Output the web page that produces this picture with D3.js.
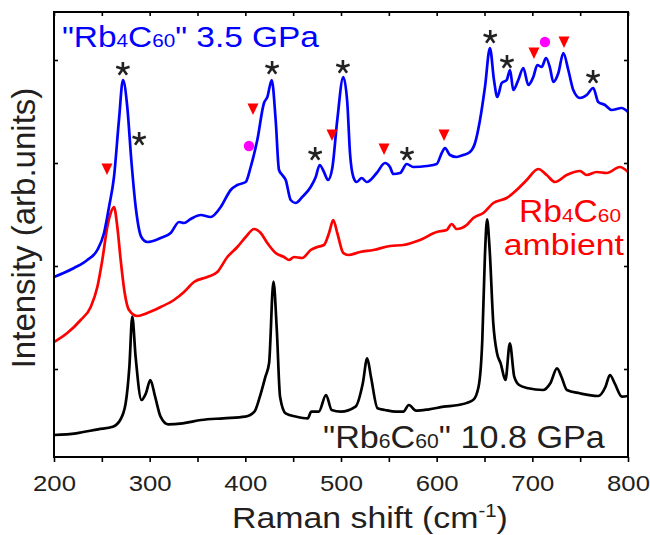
<!DOCTYPE html>
<html>
<head>
<meta charset="UTF-8">
<style>
  body { margin: 0; background: #fff; }
  svg text { font-family: "Liberation Sans", Arial, Helvetica, sans-serif; }
</style>
</head>
<body>
<div id="chart"></div>
<script src="https://d3js.org/d3.v7.min.js"></script>
<script>
const width = 650, height = 535;
const margin = {left: 54, right: 22, top: 12, bottom: 78};

// spectra: [Raman shift (cm-1), intensity (arb. units, offset)]
const rb4c60Pressure = [
  [200,180],[220.9,189],[234.8,197],[245.3,207],[252.3,224],[257.5,250],[262.7,280],[267.9,337],
  [272.1,377],[276.6,350],[280.8,297],[285.4,250],[291.3,220],[297.5,215],[311.5,219],[322,224],
  [330.7,235],[335.9,234],[342.9,238],[353.4,242],[363.8,240],[374.3,250],[384.7,267],[391.6,272],
  [400.4,275],[405.6,290],[412.5,317],[419.5,354],[423,360],[427.6,377],[431.7,337],[435.2,287],
  [438.6,282],[442.2,277],[447.4,257],[452.6,254],[459.5,260],[468.3,270],[473.6,280],[477.7,292],
  [482.2,285],[486.4,277],[490.9,289],[496.1,337],[502.4,380],[506.6,354],[509.4,304],[512.9,280],
  [516.4,275],[521.6,279],[526.9,275],[537.3,284],[546,294],[551.2,290],[554.7,283],[561.7,284],
  [568.7,293],[575.6,290],[589.6,291],[600,293],[605.3,304],[608.7,309],[613.9,302],[620.9,300],
  [627.8,302],[634.8,305],[640.1,314],[645.3,337],[650.5,370],[655.7,409],[659.9,377],[663.4,360],
  [668,374],[673.2,377],[676.7,387],[680.1,367],[685.3,377],[690.6,389],[695.8,372],[701,380],
  [705.2,392],[709.8,390],[714.3,399],[718.5,389],[721.9,375],[727.2,384],[732.4,404],[737.6,387],
  [742.8,367],[749.8,359],[756.8,362],[763.7,369],[768.9,355],[775.9,352],[782.9,347],[793.4,349],
  [800,345]
];

const rb4c60Ambient = [
  [200,115],[213.9,124],[227.9,137],[238.4,150],[245.3,170],[250.5,197],[255.7,230],[259.3,244],
  [262.7,250],[266.2,230],[269.7,197],[273.9,164],[278.4,147],[287.1,141],[297.5,144],[311.5,150],
  [325.4,157],[335.9,165],[346.3,175],[360.2,180],[370.7,185],[381.2,200],[391.6,210],[400.4,220],
  [409.1,228],[416.1,224],[423,214],[431.7,204],[440.4,200],[445.6,197],[450.9,200],[459.5,199],
  [468.3,207],[475.2,210],[482.2,212],[487.5,224],[491.9,237],[496.1,224],[502.4,204],[507.6,202],
  [519.9,205],[533.8,207],[551.2,211],[565.1,212],[582.6,217],[600,225],[610.5,227],[615.7,233],
  [620.9,228],[631.4,232],[638.3,239],[648.7,244],[659.2,254],[673.2,259],[683.6,267],[694.1,277],
  [706.2,288],[715,282],[723.7,275],[735.9,282],[749.8,286],[756.8,282],[767.2,285],[777.7,284],
  [791.6,290],[800,285]
];

const rb6c60Pressure = [
  [200,22],[223.1,23.7],[246.1,27.7],[261.5,30.3],[269.2,37],[274.9,53.7],[278.8,90.3],[281.8,140.3],
  [285.3,100.3],[291.5,57],[296.1,63.7],[300.7,77],[305.7,60.3],[311.4,40.3],[319.2,32.7],[334.5,33.7],
  [353.8,37],[376.8,38.7],[399.9,40.3],[409.5,45.3],[415.2,60.3],[421,80.3],[424.8,93.7],[429.4,175.3],
  [432.9,127],[436.3,60.3],[442.1,43.7],[453.6,40.3],[465.2,38.7],[469,45.3],[476.7,45.3],[484.4,62],
  [490.2,47],[499.8,45.3],[515.2,50.3],[522.8,73.7],[527.4,98.7],[531.3,80.3],[538.2,48.7],[545.9,47],
  [557.4,45.3],[565.1,45.3],[570.9,52],[578.5,46.3],[592,47.7],[607.4,50.3],[622.7,52],[638.1,57],
  [643.8,70.3],[647.7,117],[650.4,200.3],[652.7,237.7],[655.4,207],[659.2,133.7],[663.1,103.7],
  [666.9,93.7],[671.9,77],[676.5,113.7],[681.1,80.3],[686.2,72],[695.8,68.7],[711.1,67],[718.8,73.7],
  [725.8,88.7],[730.4,80.3],[736.1,67],[749.5,63.7],[768.7,61],[776.5,70.3],[781.1,82],[786.1,73.7],
  [793.7,60.3],[800,61]
];

// peak markers
const starShift = [272, 289, 428, 473, 502, 569, 656, 673.5, 763.5];
const starIntensity = [388, 318, 389, 303, 390, 303, 420, 395, 380];
const triangleShift = [255.4, 408, 490.6, 545, 607.7, 701.7, 733.1];
const triangleIntensity = [288, 348, 322, 308, 322, 404, 415];
const circleShift = [403.8, 713.2];
const circleIntensity = [311, 415];

const xTicks = d3.range(200, 801, 50);
const yTicks = [88, 191, 294, 397];

const textColor = "#231f20";
const sx = 1.12; // the original lettering is slightly wide

const svg = d3.select("#chart").append("svg")
  .attr("width", width).attr("height", height);

const x = d3.scaleLinear().domain([200, 800]).range([margin.left, width - margin.right]);
const y = d3.scaleLinear().domain([0, 445]).range([height - margin.bottom, margin.top]);

svg.append("clipPath").attr("id", "plotclip")
  .append("rect")
  .attr("x", x(200)).attr("y", y(445))
  .attr("width", x(800) - x(200)).attr("height", y(0) - y(445));

// axes
const bottom = svg.append("g")
  .attr("transform", `translate(0,${y(0)})`)
  .call(d3.axisBottom(x).tickValues(xTicks).tickSize(5).tickSizeOuter(0)
    .tickFormat(d => d % 100 === 0 ? d : ""));
bottom.selectAll("text")
  .attr("y", 34).attr("dy", 0)
  .attr("transform", `scale(${sx},1)`)
  .style("font-size", "23px").attr("fill", textColor);

svg.append("g")
  .attr("transform", `translate(0,${y(445)})`)
  .call(d3.axisTop(x).tickValues(xTicks).tickSize(-4).tickSizeOuter(0).tickFormat(""));
svg.append("g")
  .attr("transform", `translate(${x(200)},0)`)
  .call(d3.axisLeft(y).tickValues(yTicks).tickSize(-4).tickSizeOuter(0).tickFormat(""));
svg.append("g")
  .attr("transform", `translate(${x(800)},0)`)
  .call(d3.axisRight(y).tickValues(yTicks).tickSize(-4).tickSizeOuter(0).tickFormat(""));

svg.selectAll(".domain").remove();
svg.selectAll(".tick line").attr("stroke", "#000").attr("stroke-width", 1.6);

// spectra
const line = d3.line()
  .x(d => x(d[0]))
  .y(d => y(d[1]))
  .curve(d3.curveMonotoneX);

const plot = svg.append("g").attr("clip-path", "url(#plotclip)");
[[rb6c60Pressure, "#000000"], [rb4c60Ambient, "#ff0000"], [rb4c60Pressure, "#0000ff"]]
  .forEach(([data, color]) => {
    plot.append("path")
      .datum(data)
      .attr("d", line)
      .attr("fill", "none")
      .attr("stroke", color)
      .attr("stroke-width", 2.7)
      .attr("stroke-linejoin", "round");
  });

// frame
svg.append("rect")
  .attr("x", x(200)).attr("y", y(445))
  .attr("width", x(800) - x(200)).attr("height", y(0) - y(445))
  .attr("fill", "none").attr("stroke", "#000").attr("stroke-width", 2);

// markers
function starPath(r) {
  let p = "";
  for (let i = 0; i < 5; i++) {
    const a = (-90 + i * 72) * Math.PI / 180;
    p += `M0,0L${(r * Math.cos(a)).toFixed(2)},${(r * Math.sin(a)).toFixed(2)}`;
  }
  return p;
}
svg.append("g").selectAll("path")
  .data(starShift.map((s, i) => [s, starIntensity[i]]))
  .join("path")
  .attr("transform", d => `translate(${x(d[0])},${y(d[1])})`)
  .attr("d", starPath(7))
  .attr("stroke", "#222").attr("stroke-width", 2.6).attr("fill", "none");

svg.append("g").selectAll("path")
  .data(triangleShift.map((s, i) => [s, triangleIntensity[i]]))
  .join("path")
  .attr("transform", d => `translate(${x(d[0])},${y(d[1])})`)
  .attr("d", "M-5.5,-5.5L5.5,-5.5L0,6Z")
  .attr("fill", "#ff0000");

svg.append("g").selectAll("circle")
  .data(circleShift.map((s, i) => [s, circleIntensity[i]]))
  .join("circle")
  .attr("cx", d => x(d[0])).attr("cy", d => y(d[1]))
  .attr("r", 5.2)
  .attr("fill", "#ff00ff");

// labels with subscripts, stretched horizontally to the measured width
function label(px, py, anchor, size, color, parts, targetWidth) {
  const g = svg.append("g");
  const t = g.append("text")
    .attr("text-anchor", anchor)
    .attr("fill", color)
    .style("font-size", size + "px");
  parts.forEach(p => {
    const ts = t.append("tspan").text(p.t);
    if (p.sub) ts.style("font-size", (size * 0.62) + "px");
    if (p.sup) ts.style("font-size", (size * 0.6) + "px").attr("dy", -size * 0.38);
    if (p.after) ts.attr("dy", size * 0.38);
  });
  const w = t.node().getBBox().width;
  const k = targetWidth ? targetWidth / w : sx;
  g.attr("transform", `translate(${px},${py}) scale(${k},1)`);
  return g;
}

label(62, 47, "start", 29, "#0000ff",
  [{t: "\"Rb"}, {t: "4", sub: true}, {t: "C"}, {t: "60", sub: true}, {t: "\" 3.5 GPa"}], 258);

label(621, 222, "end", 31, "#ff0000",
  [{t: "Rb"}, {t: "4", sub: true}, {t: "C"}, {t: "60", sub: true}], 102);
label(624, 255, "end", 30, "#ff0000", [{t: "ambient"}], 121);

label(323, 448, "start", 32, textColor,
  [{t: "\"Rb"}, {t: "6", sub: true}, {t: "C"}, {t: "60", sub: true}, {t: "\" 10.8 GPa"}], 282);

label(232, 528, "start", 30, textColor,
  [{t: "Raman shift (cm"}, {t: "-1", sup: true}, {t: ")", after: true}], 276);

svg.append("text")
  .attr("transform", "translate(35,228) rotate(-90)")
  .attr("text-anchor", "middle")
  .attr("fill", textColor)
  .style("font-size", "33px")
  .text("Intensity (arb.units)");
</script>
</body>
</html>
